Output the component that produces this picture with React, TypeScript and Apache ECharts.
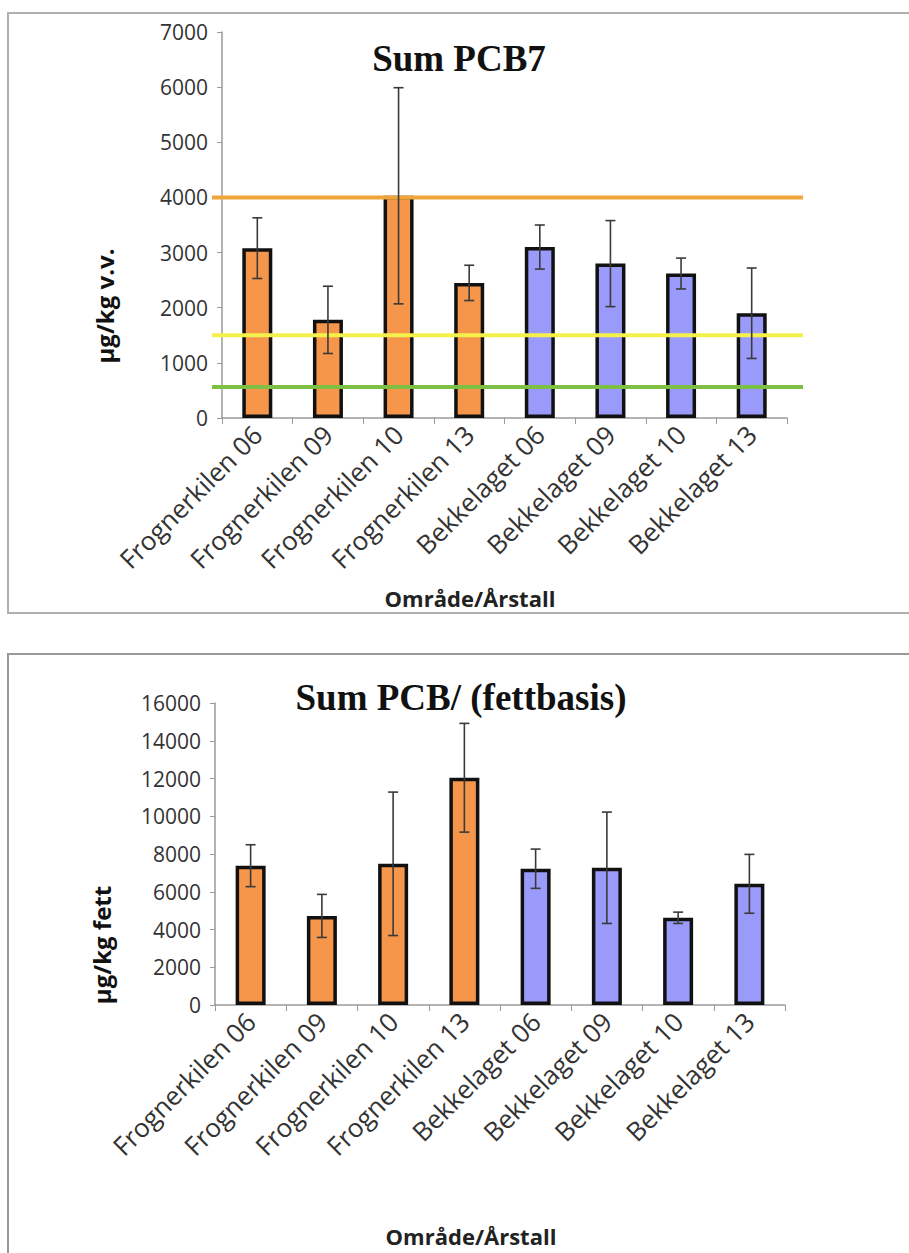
import React, { useEffect, useRef } from "react";
import * as echarts from "echarts";

const categories = [
  "Frognerkilen 06",
  "Frognerkilen 09",
  "Frognerkilen 10",
  "Frognerkilen 13",
  "Bekkelaget 06",
  "Bekkelaget 09",
  "Bekkelaget 10",
  "Bekkelaget 13",
];
const pcb7Mean = [3080, 1780, 4030, 2450, 3100, 2800, 2620, 1900];
const pcb7Sd = [550, 610, 1960, 320, 400, 780, 280, 820];
const fatMean = [7380, 4720, 7480, 12040, 7220, 7270, 4620, 6420];
const fatSd = [1110, 1140, 3800, 2880, 1040, 2950, 300, 1560];
const refLevels = [4000, 1500, 560];
const refColors = ["#EFA53A", "#F4F24A", "#7DC043"];
const yTicksTop = { max: 7000, step: 1000 };
const yTicksBottom = { max: 16000, step: 2000 };

const ORANGE = "#F5964A";
const BLUE = "#9A9AFA";
const LABEL_FONT = "'Open Sans', 'DejaVu Sans', sans-serif";

function barColor(name: string) {
  return name.startsWith("Frognerkilen") ? ORANGE : BLUE;
}

function errorRender(params: any, api: any) {
  const x = api.value(0);
  const lo = api.coord([x, api.value(1)]);
  const hi = api.coord([x, api.value(2)]);
  const w = 5;
  const style = { stroke: "#3a3a3a", lineWidth: 1.6 };
  return {
    type: "group",
    children: [
      { type: "line", shape: { x1: hi[0], y1: hi[1], x2: lo[0], y2: lo[1] }, style },
      { type: "line", shape: { x1: hi[0] - w, y1: hi[1], x2: hi[0] + w, y2: hi[1] }, style },
      { type: "line", shape: { x1: lo[0] - w, y1: lo[1], x2: lo[0] + w, y2: lo[1] }, style },
    ],
  };
}

const axisGray = "#9a9a9a";

function catAxis(gridIndex: number) {
  return {
    type: "category",
    gridIndex,
    data: categories,
    boundaryGap: true,
    axisLine: { show: true, lineStyle: { color: axisGray, width: 1.5 } },
    axisTick: { show: true, alignWithLabel: false, length: 6, lineStyle: { color: axisGray } },
    axisLabel: {
      rotate: 45,
      interval: 0,
      margin: 12,
      fontFamily: LABEL_FONT,
      fontSize: 26,
      color: "#333",
    },
  };
}

function valAxis(gridIndex: number, t: { max: number; step: number }) {
  return {
    type: "value",
    gridIndex,
    min: 0,
    max: t.max,
    interval: t.step,
    splitLine: { show: false },
    axisLine: { show: true, lineStyle: { color: axisGray, width: 1.5 } },
    axisTick: { show: true, length: 5, lineStyle: { color: axisGray } },
    axisLabel: {
      margin: 14,
      fontFamily: LABEL_FONT,
      fontSize: 21,
      color: "#333",
      formatter: (v: number) => String(v),
    },
  };
}

export default function App() {
  const ref = useRef<HTMLDivElement>(null);
  useEffect(() => {
    if (!ref.current) return;
    const chart = echarts.init(ref.current, undefined, { renderer: "svg" });

    const option: any = {
      animation: false,
      backgroundColor: "#ffffff",
      grid: [
        { left: 222, right: 122, top: 32, bottom: 835 },
        { left: 212, right: 106, top: 32, bottom: 835 },
        { left: 215, right: 124, top: 703, bottom: 248 },
      ],
      xAxis: [
        catAxis(0),
        { type: "value", gridIndex: 1, min: 0, max: 1, show: false },
        catAxis(2),
      ],
      yAxis: [
        valAxis(0, yTicksTop),
        { type: "value", gridIndex: 1, min: 0, max: yTicksTop.max, show: false },
        valAxis(2, yTicksBottom),
      ],
      series: [
        {
          type: "bar",
          xAxisIndex: 0,
          yAxisIndex: 0,
          barWidth: 30,
          z: 2,
          data: pcb7Mean.map((v, i) => ({
            value: v,
            itemStyle: { color: barColor(categories[i]), borderColor: "#111", borderWidth: 3.5 },
          })),
        },
        ...refLevels.map((lv, i) => ({
          type: "line",
          xAxisIndex: 1,
          yAxisIndex: 1,
          z: 3,
          symbol: "none",
          lineStyle: { color: refColors[i], width: 4 },
          data: [
            [0, lv],
            [1, lv],
          ],
        })),
        {
          type: "custom",
          xAxisIndex: 0,
          yAxisIndex: 0,
          z: 4,
          renderItem: errorRender,
          encode: { x: 0, y: [1, 2] },
          data: pcb7Mean.map((v, i) => [i, v - pcb7Sd[i], v + pcb7Sd[i]]),
        },
        {
          type: "bar",
          xAxisIndex: 2,
          yAxisIndex: 2,
          barWidth: 30,
          z: 2,
          data: fatMean.map((v, i) => ({
            value: v,
            itemStyle: { color: barColor(categories[i]), borderColor: "#111", borderWidth: 3.5 },
          })),
        },
        {
          type: "custom",
          xAxisIndex: 2,
          yAxisIndex: 2,
          z: 4,
          renderItem: errorRender,
          encode: { x: 0, y: [1, 2] },
          data: fatMean.map((v, i) => [i, v - fatSd[i], v + fatSd[i]]),
        },
      ],
      graphic: [
        {
          type: "rect",
          shape: { x: 8, y: 13, width: 920, height: 600 },
          style: { fill: "none", stroke: "#b0b0b0", lineWidth: 2 },
          z: 0,
        },
        {
          type: "rect",
          shape: { x: 8, y: 654, width: 920, height: 640 },
          style: { fill: "none", stroke: "#999", lineWidth: 2 },
          z: 0,
        },
        {
          type: "text",
          x: 459,
          y: 58,
          style: {
            text: "Sum PCB7",
            font: "bold 37px 'Liberation Serif', 'Times New Roman', serif",
            fill: "#111",
            textAlign: "center",
            textVerticalAlign: "middle",
          },
        },
        {
          type: "text",
          x: 461,
          y: 697,
          style: {
            text: "Sum PCB/ (fettbasis)",
            font: "bold 37px 'Liberation Serif', 'Times New Roman', serif",
            fill: "#111",
            textAlign: "center",
            textVerticalAlign: "middle",
          },
        },
        {
          type: "text",
          x: 104,
          y: 306,
          rotation: Math.PI / 2,
          style: {
            text: "µg/kg v.v.",
            font: "bold 24px 'Open Sans', sans-serif",
            fill: "#111",
            textAlign: "center",
            textVerticalAlign: "middle",
          },
        },
        {
          type: "text",
          x: 101,
          y: 945,
          rotation: Math.PI / 2,
          style: {
            text: "µg/kg fett",
            font: "bold 24px 'Open Sans', sans-serif",
            fill: "#111",
            textAlign: "center",
            textVerticalAlign: "middle",
          },
        },
        {
          type: "text",
          x: 470,
          y: 598,
          style: {
            text: "Område/Årstall",
            font: "bold 22px 'Open Sans', sans-serif",
            fill: "#222",
            textAlign: "center",
            textVerticalAlign: "middle",
          },
        },
        {
          type: "text",
          x: 471,
          y: 1236,
          style: {
            text: "Område/Årstall",
            font: "bold 22px 'Open Sans', sans-serif",
            fill: "#222",
            textAlign: "center",
            textVerticalAlign: "middle",
          },
        },
      ],
    };

    chart.setOption(option);
    return () => chart.dispose();
  }, []);

  return (
    <div
      ref={ref}
      style={{ position: "absolute", left: 0, top: 0, width: 909, height: 1253, background: "#fff" }}
    />
  );
}
